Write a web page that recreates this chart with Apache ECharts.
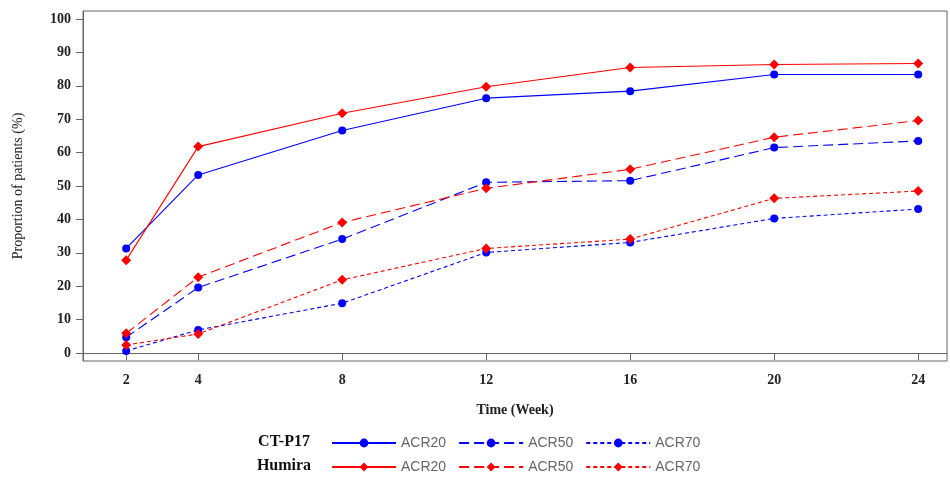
<!DOCTYPE html>
<html>
<head>
<meta charset="utf-8">
<title>ACR response</title>
<script src="https://cdn.jsdelivr.net/npm/echarts@6/dist/echarts.min.js"></script>
<style>
  html, body { margin: 0; padding: 0; background: #fff; }
  #chart { width: 950px; height: 479px; }
</style>
</head>
<body>
<div id="chart"></div>
<script>
// weeks and response rates
var weeks = [2, 4, 8, 12, 16, 20, 24];
var yTicks = [0, 10, 20, 30, 40, 50, 60, 70, 80, 90, 100];

var ctAcr20 = [31.3, 53.3, 66.6, 76.3, 78.4, 83.4, 83.4];
var ctAcr50 = [4.7, 19.6, 34.1, 51.1, 51.6, 61.5, 63.5];
var ctAcr70 = [0.6, 6.9, 14.9, 30.1, 33.1, 40.3, 43.1];

var huAcr20 = [27.8, 61.8, 71.8, 79.7, 85.5, 86.4, 86.7];
var huAcr50 = [5.9, 22.7, 39.1, 49.3, 55.0, 64.6, 69.6];
var huAcr70 = [2.4, 5.7, 21.9, 31.3, 34.1, 46.3, 48.5];

var BLUE = '#0000ff';
var RED = '#ff0000';
var serif = 'Liberation Serif';

function pairs(vals) {
    return weeks.map(function (w, i) { return [w, vals[i]]; });
}

function mk(name, vals, color, symbol, size, dash) {
    return {
        name: name,
        type: 'line',
        data: pairs(vals),
        symbol: symbol,
        symbolSize: size,
        itemStyle: { color: color },
        lineStyle: { color: color, width: 1.1, type: dash },
        emphasis: { disabled: true },
        animation: false
    };
}

var myChart = echarts.init(document.getElementById('chart'));
var legendText = { fontFamily: 'Liberation Sans', fontSize: 14, color: '#666' };
var option = {
    animation: false,
    grid: {
        left: 83, top: 11, right: 3, bottom: 118,
        show: true, borderColor: '#666', borderWidth: 1
    },
    xAxis: {
        type: 'value',
        min: 0.8, max: 24.8,
        name: 'Time (Week)',
        nameLocation: 'middle',
        nameGap: 42,
        nameTextStyle: { fontFamily: serif, fontWeight: 'bold', fontSize: 14, color: '#222' },
        axisLine: { lineStyle: { color: '#666' } },
        axisTick: { show: true, length: 7, customValues: weeks, lineStyle: { color: '#666' } },
        axisLabel: { customValues: weeks, margin: 12, fontFamily: serif, fontWeight: 'bold', fontSize: 14, color: '#222' },
        splitLine: { show: false }
    },
    yAxis: {
        type: 'value',
        min: -2.4, max: 102.4,
        name: 'Proportion of patients (%)',
        nameLocation: 'middle',
        nameGap: 58,
        nameTextStyle: { fontFamily: serif, fontSize: 14, color: '#222' },
        axisLine: { show: true, lineStyle: { color: '#666' } },
        axisTick: { show: true, length: 7, customValues: yTicks, lineStyle: { color: '#666' } },
        axisLabel: { customValues: yTicks, margin: 12, fontFamily: serif, fontWeight: 'bold', fontSize: 14, color: '#222' },
        splitLine: { show: false }
    },
    legend: [
        {
            data: ['CT-P17 ACR20', 'CT-P17 ACR50', 'CT-P17 ACR70'],
            left: 326, top: 431,
            itemWidth: 64, itemHeight: 11, itemGap: 12,
            formatter: function (n) { return n.split(' ')[1]; },
            textStyle: legendText,
            selectedMode: false
        },
        {
            data: ['Humira ACR20', 'Humira ACR50', 'Humira ACR70'],
            left: 326, top: 455,
            itemWidth: 64, itemHeight: 11, itemGap: 12,
            formatter: function (n) { return n.split(' ')[1]; },
            textStyle: legendText,
            selectedMode: false
        }
    ],
    graphic: [
        { type: 'text', x: 284, y: 442, style: { text: 'CT-P17', font: 'bold 16px "Liberation Serif"', fill: '#111', align: 'center', verticalAlign: 'middle' } },
        { type: 'text', x: 284, y: 466, style: { text: 'Humira', font: 'bold 16px "Liberation Serif"', fill: '#111', align: 'center', verticalAlign: 'middle' } }
    ],
    series: [
        mk('CT-P17 ACR20', ctAcr20, BLUE, 'circle', 8, 'solid'),
        mk('CT-P17 ACR50', ctAcr50, BLUE, 'circle', 8, [10, 5]),
        mk('CT-P17 ACR70', ctAcr70, BLUE, 'circle', 8, [4, 3]),
        mk('Humira ACR20', huAcr20, RED, 'diamond', 10, 'solid'),
        mk('Humira ACR50', huAcr50, RED, 'diamond', 10, [10, 5]),
        mk('Humira ACR70', huAcr70, RED, 'diamond', 10, [4, 3])
    ]
};
myChart.setOption(option);
</script>
</body>
</html>
